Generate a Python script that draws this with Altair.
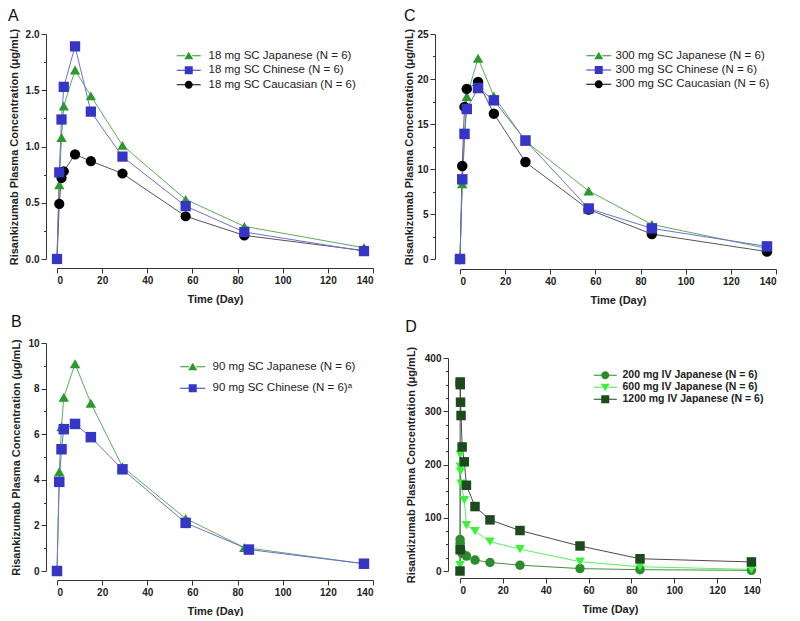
import altair as alt
import pandas as pd

FONT = "Liberation Sans"
TXT = "#222222"

# ---------------- Panel A : 18 mg SC ----------------
a_series = ["18 mg SC Japanese (N = 6)", "18 mg SC Chinese (N = 6)", "18 mg SC Caucasian (N = 6)"]
a_days = [0, 1, 2, 3, 8, 15, 29, 57, 83, 136]
a_japanese = [0, 0.66, 1.08, 1.36, 1.68, 1.45, 1.01, 0.53, 0.29, 0.10]
a_chinese = [0, 0.77, 1.24, 1.53, 1.89, 1.31, 0.91, 0.47, 0.24, 0.07]
a_caucasian = [0, 0.49, 0.72, 0.78, 0.93, 0.87, 0.76, 0.38, 0.21, 0.075]

# ---------------- Panel B : 90 mg SC ----------------
b_series = ["90 mg SC Japanese (N = 6)", "90 mg SC Chinese (N = 6)\u1d43"]
b_days_japanese = [0, 1, 2, 3, 8, 15, 29, 57, 83, 136]
b_japanese = [0, 4.35, 6.33, 7.62, 9.09, 7.36, 4.57, 2.30, 1.03, 0.32]
b_days_chinese = [0, 1, 2, 3, 8, 15, 29, 57, 85, 136]
b_chinese = [0, 3.91, 5.34, 6.22, 6.45, 5.87, 4.46, 2.11, 0.94, 0.32]

# ---------------- Panel C : 300 mg SC ----------------
c_series = ["300 mg SC Japanese (N = 6)", "300 mg SC Chinese (N = 6)", "300 mg SC Caucasian (N = 6)"]
c_days_japanese = [0, 1, 3, 8, 15, 29, 57, 85, 136]
c_japanese = [0, 8.37, 18.07, 22.3, 18.1, 13.1, 7.56, 3.84, 1.18]
c_days = [0, 1, 2, 3, 8, 15, 29, 57, 85, 136]
c_chinese = [0, 8.85, 13.9, 16.67, 19.0, 17.63, 13.17, 5.61, 3.4, 1.4]
c_caucasian = [0, 10.33, 16.9, 18.9, 19.66, 16.15, 10.77, 5.5, 2.77, 0.82]

# ---------------- Panel D : IV ----------------
d_series = ["200 mg IV Japanese (N = 6)", "600 mg IV Japanese (N = 6)", "1200 mg IV Japanese (N = 6)"]
d_days_200 = [0.04, 0.08, 0.25, 1, 3, 7, 14, 28, 56, 84, 136]
d_200 = [59, 52, 42, 33, 28, 20.6, 16, 11, 4.5, 2.5, 1.2]
d_days_600 = [0.04, 0.08, 0.12, 0.25, 0.5, 2, 3, 7, 14, 28, 56, 84, 136]
d_600 = [11, 219, 196, 187, 164, 133, 86, 75, 55, 41, 17.5, 8, 3]
d_days_1200 = [0, 0.04, 0.08, 0.12, 0.25, 0.5, 1, 2, 3, 7, 14, 28, 56, 84, 136]
d_1200 = [0, 40, 355, 350, 317, 292, 233, 205, 161, 121, 96, 76, 47, 23, 17]

x_ticks = [0, 20, 40, 60, 80, 100, 120, 140]


def make_df(pairs):
    rows = []
    for name, days, vals in pairs:
        for d, v in zip(days, vals):
            rows.append({"day": d, "conc": v, "series": name})
    return pd.DataFrame(rows)


def leg_path(kind, half=2.4):
    line = f"M-{half},-0.1H-0.7V0.1H-{half}Z M0.7,-0.1H{half}V0.1H0.7Z "
    if kind == "triangle-up":
        m = "M0,-0.8L0.9,0.7H-0.9Z"
    elif kind == "triangle-down":
        m = "M0,0.8L0.9,-0.7H-0.9Z"
    elif kind == "square":
        m = "M-0.8,-0.8H0.8V0.8H-0.8Z"
    else:
        m = "M-0.8,0A0.8,0.8,0,1,1,0.8,0A0.8,0.8,0,1,1,-0.8,0Z"
    return line + m


def panel(df, order, mcolors, lcolors, shapes, msize, ymax, minor, major, yfmt,
          width, height, yoff, xoff, ytpad, letter, toff, legx, legy, legrow,
          legfs, legfw, legoff, yrange=None, xrange=None, half=2.4):
    nmaj = int(round(ymax / major))
    major_vals = [round(i * major, 4) for i in range(nmaj + 1)]
    nmin = int(round(ymax / minor))
    minor_vals = [round(i * minor, 4) for i in range(nmin + 1)]
    minor_vals = [v for v in minor_vals if v not in major_vals]

    yscale = dict(domain=[0, ymax], nice=False, zero=True)
    if yrange is not None:
        yscale["range"] = yrange
    xscale = dict(domain=[0, 140], nice=False, zero=False)
    if xrange is not None:
        xscale["range"] = xrange
    sy = alt.Scale(**yscale)
    sx = alt.Scale(**xscale)

    y_main = alt.Y(
        "conc:Q", scale=sy,
        axis=alt.Axis(
            title="Risankizumab Plasma Concentration (\u03bcg/mL)",
            values=major_vals, format=yfmt, orient="left",
            tickSize=5, offset=yoff, titlePadding=ytpad, labelPadding=2,
        ),
    )
    y_minor = alt.Y(
        "conc:Q", scale=sy,
        axis=alt.Axis(title=None, values=minor_vals, labels=False, domain=False,
                      orient="left", tickSize=2.5, offset=yoff),
    )
    y_none = alt.Y("conc:Q", scale=sy, axis=None)
    x_main = alt.X(
        "day:Q", scale=sx,
        axis=alt.Axis(title="Time (Day)", values=x_ticks, format="d", offset=xoff,
                      orient="bottom", titlePadding=8, labelPadding=2, tickSize=5),
    )

    base = alt.Chart(df)
    lines = base.mark_line(strokeWidth=1).encode(
        x=x_main, y=y_main,
        color=alt.Color("series:N", scale=alt.Scale(domain=order, range=lcolors), legend=None),
    )
    minor_layer = base.mark_point(opacity=0).encode(x=x_main, y=y_minor).transform_filter("false")
    pts = base.mark_point(filled=True, opacity=1, size=msize).encode(
        x=x_main, y=y_none,
        color=alt.Color("series:N", scale=alt.Scale(domain=order, range=mcolors), legend=None),
        shape=alt.Shape("series:N", scale=alt.Scale(domain=order, range=shapes), legend=None),
    )
    leg = alt.Legend(
        title=None, orient="none", legendX=legx, legendY=legy, padding=0,
        rowPadding=legrow, labelFont=FONT, labelFontSize=legfs, labelFontWeight=legfw,
        labelColor=TXT, labelOffset=legoff, symbolSize=100, symbolStrokeWidth=0,
        symbolOpacity=1, labelLimit=300,
    )
    legend_layer = base.mark_point(filled=True, opacity=1, size=100).encode(
        x=x_main, y=y_none,
        color=alt.Color("series:N", scale=alt.Scale(domain=order, range=mcolors), legend=leg),
        shape=alt.Shape("series:N", scale=alt.Scale(domain=order, range=[leg_path(s, half) for s in shapes]), legend=leg),
    ).transform_filter("false")
    return (
        alt.layer(lines, minor_layer, pts, legend_layer)
        .resolve_scale(color="independent", shape="independent")
        .resolve_axis(y="independent", x="shared")
        .properties(
            width=width, height=height,
            title=alt.TitleParams(letter, anchor="start", frame="bounds", fontSize=16,
                                  fontWeight="normal", color="#111111", font=FONT, offset=toff),
        )
    )


JP_M, JP_L = "#2b9a2b", "#5aae5a"
CN_M, CN_L = "#3636c6", "#6e6ed2"
CA_M, CA_L = "#000000", "#555555"

dfA = make_df([(a_series[0], a_days, a_japanese), (a_series[2], a_days, a_caucasian),
               (a_series[1], a_days, a_chinese)])
A = panel(dfA, a_series, [JP_M, CN_M, CA_M], [JP_L, CN_L, CA_L],
          ["triangle-up", "square", "circle"], 105, 2.0, 0.25, 0.5, ".1f",
          316, 225, 11, 9, 6, "A", 4, 126, 16, 1.5, 11.5, "normal", 14)

dfC = make_df([(c_series[0], c_days_japanese, c_japanese), (c_series[2], c_days, c_caucasian),
               (c_series[1], c_days, c_chinese)])
C = panel(dfC, c_series, [JP_M, CN_M, CA_M], [JP_L, CN_L, CA_L],
          ["triangle-up", "square", "circle"], 110, 25, 2.5, 5, "d",
          316, 225, 25, 10, 2, "C", 4, 133, 16, 1.3, 11.5, "normal", 11, half=2.5)

dfB = make_df([(b_series[0], b_days_japanese, b_japanese), (b_series[1], b_days_chinese, b_chinese)])
B = panel(dfB, b_series, [JP_M, CN_M], [JP_L, CN_L],
          ["triangle-up", "square"], 110, 10, 1, 2, "d",
          316, 228, 11, 9, 6, "B", 8, 130, 18, 8.5, 11.5, "normal", 14, half=2.5)

D1, D2, D3 = "#2c8c2c", "#3cf03c", "#1d4a1d"
dfD = make_df([(d_series[0], d_days_200, d_200), (d_series[1], d_days_600, d_600),
               (d_series[2], d_days_1200, d_1200)])
D = panel(dfD, d_series, [D1, D2, D3], ["#3f8f3f", "#5cf05c", "#4a4a4a"],
          ["circle", "triangle-down", "square"], 90, 400, 25, 100, "d",
          316, 228, 12, 7, 8, "D", 8, 140, 27, 1, 10.5, "bold", 12,
          yrange=[228, 15], xrange=[0, 300], half=2.3)

chart = (
    alt.concat(A, C, B, D, columns=2, spacing={"row": 9, "column": 29})
    .resolve_scale(x="independent", y="independent", color="independent", shape="independent")
    .resolve_legend(color="independent", shape="independent")
    .properties(padding=0)
    .configure(font=FONT)
    .configure_view(stroke=None)
    .configure_axis(
        grid=False,
        labelFont=FONT, labelFontSize=10, labelFontWeight="bold", labelColor=TXT,
        titleFont=FONT, titleFontSize=11, titleFontWeight="bold", titleColor=TXT,
        domainColor="#333333", tickColor="#333333", domainWidth=1, tickWidth=1,
    )
)

chart.save("out.html", embed_options={"renderer": "svg", "actions": False})
